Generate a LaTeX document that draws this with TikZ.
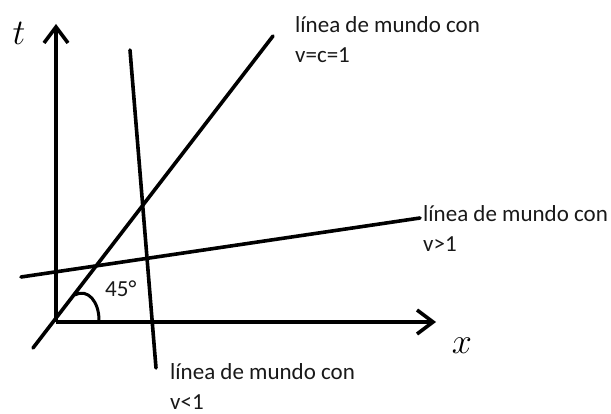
\documentclass[tikz,border=0pt]{standalone}
\usepackage{fontspec}
\setmainfont{Carlito}
\usetikzlibrary{arrows.meta}
\begin{document}
\begin{tikzpicture}[x=1pt,y=-1pt,
  wl/.style={line width=3.6pt, line cap=round},
  axis/.style={line width=3.6pt, -{Straight Barb[length=16pt,width=24pt,line width=3.6pt]}},
  lbl/.style={font=\fontsize{23}{30}\selectfont, inner sep=0pt, align=left, anchor=base west, text=black!90},
  var/.style={font=\Huge, inner sep=0pt}]
\useasboundingbox (0,0) rectangle (611,414);
% axes
\coordinate (O) at (56,322);
\coordinate (T) at (56,24);
\coordinate (X) at (436,322);
\draw[axis] (O) -- (T);
\draw[axis] (O) -- (X);
\node[var] (t) at (19,33) {\scalebox{1.45}{$t$}};
\node[var] (x) at (462,346) {\scalebox{1.45}{$x$}};
% world lines
\coordinate (c1) at (33,348);
\coordinate (c2) at (273,36);
\draw[wl] (c1) -- (c2);
\coordinate (s1) at (130,50);
\coordinate (s2) at (156,368);
\draw[wl] (s1) -- (s2);
\coordinate (f1) at (21,277);
\coordinate (f2) at (420,218);
\draw[wl] (f1) -- (f2);
% angle
\coordinate (a1) at (75,295);
\coordinate (a2) at (99,320);
\draw[line width=3pt] (a1) .. controls (88,288) and (99,302) .. (a2);
\node[lbl] (ang) at (105,297) {45°};
% labels (anchor at baseline of the last line)
\node[lbl] (lc) at (295,63) {línea de mundo con\\v=c=1};
\node[lbl] (lf) at (423,252) {línea de mundo con\\v>1};
\node[lbl] (ls) at (170,409) {línea de mundo con\\v<1};
\end{tikzpicture}
\end{document}
